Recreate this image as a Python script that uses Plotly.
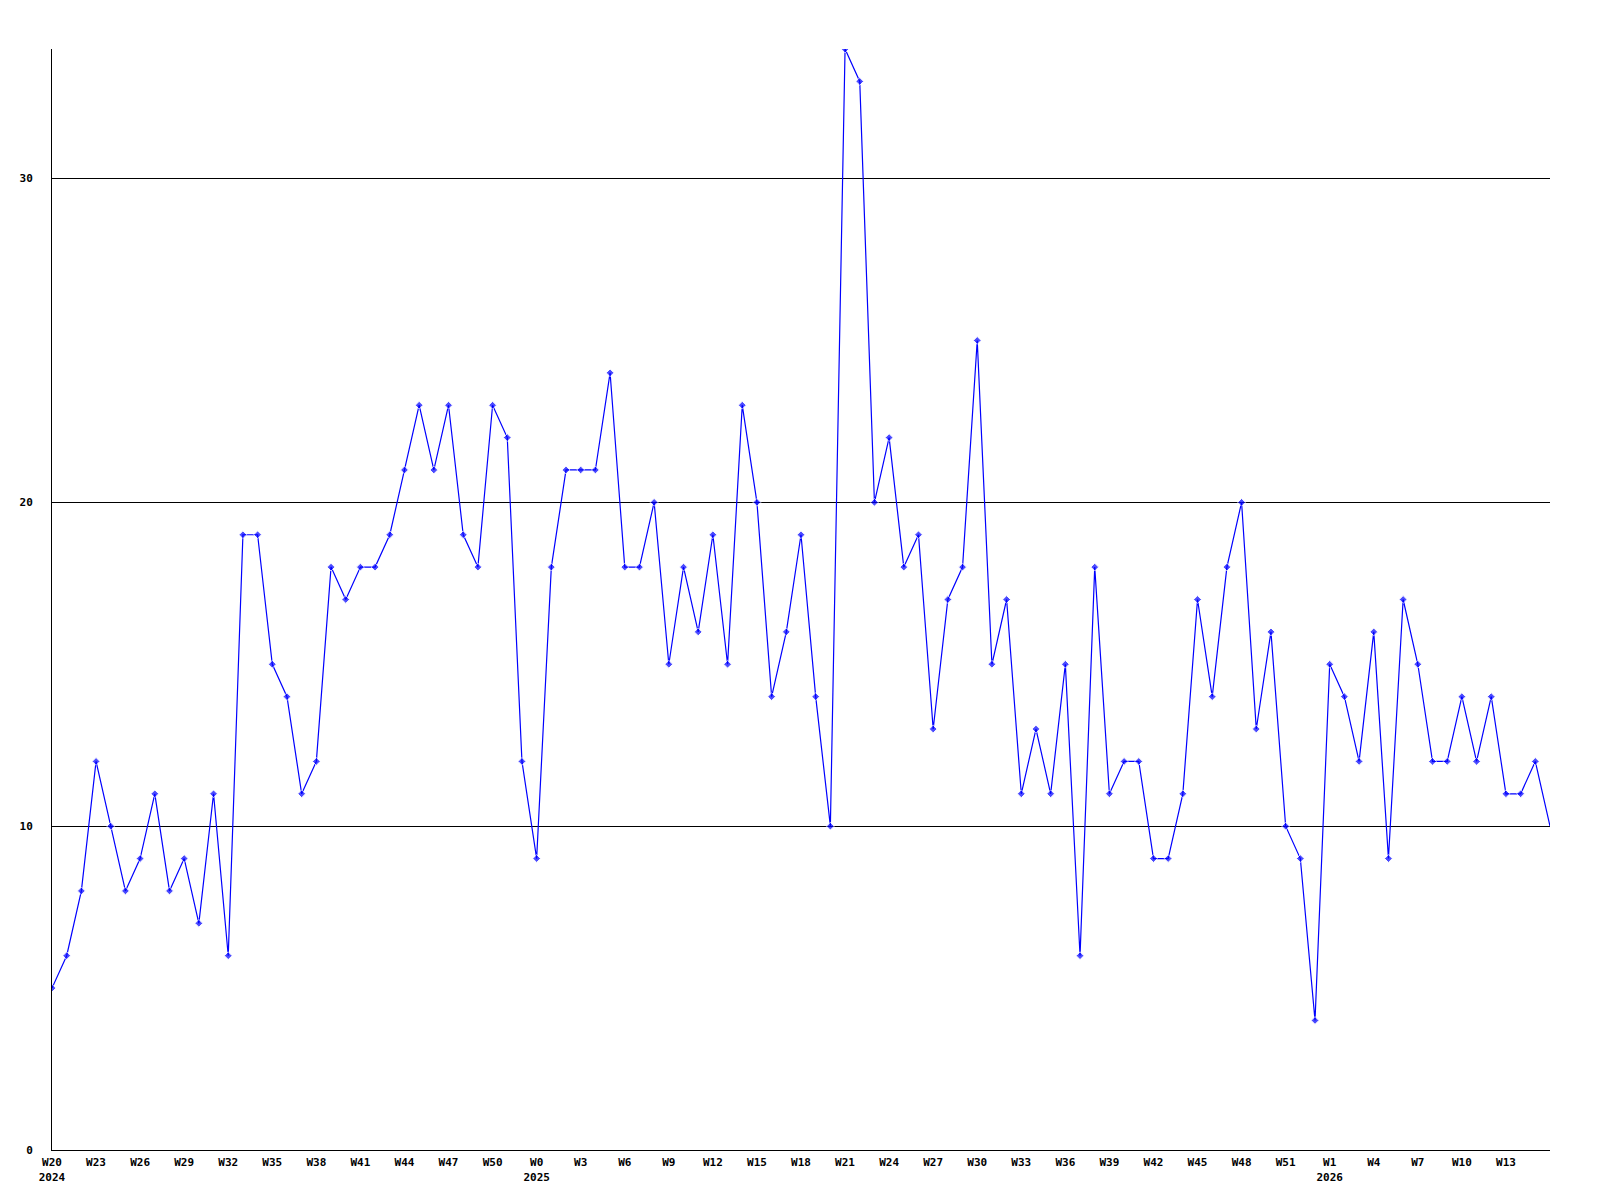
import plotly.graph_objects as go

weeks = (["W%d" % w for w in range(20, 53)] +
         ["W%d" % w for w in range(0, 53)] +
         ["W%d" % w for w in range(0, 17)])
years = ([2024] * 33 + [2025] * 53 + [2026] * 17)

values = [5, 6, 8, 12, 10, 8, 9, 11, 8, 9, 7, 11, 6, 19, 19, 15, 14, 11, 12, 18,
          17, 18, 18, 19, 21, 23, 21, 23, 19, 18, 23, 22, 12, 9, 18, 21, 21, 21, 24, 18,
          18, 20, 15, 18, 16, 19, 15, 23, 20, 14, 16, 19, 14, 10, 34, 33, 20, 22, 18, 19,
          13, 17, 18, 25, 15, 17, 11, 13, 11, 15, 6, 18, 11, 12, 12, 9, 9, 11, 17, 14,
          18, 20, 13, 16, 10, 9, 4, 15, 14, 12, 16, 9, 17, 15, 12, 12, 14, 12, 14, 11,
          11, 12, 10]

y_ticks = [0, 10, 20, 30]

x = list(range(len(values)))

tickvals = []
ticktext = []
seen_years = set()
for i in range(0, len(weeks), 3):
    if i > len(values) - 3:
        break
    label = weeks[i]
    if years[i] not in seen_years:
        seen_years.add(years[i])
        label += "<br>" + str(years[i])
    tickvals.append(i)
    ticktext.append(label)

sizes = [6] * (len(values) - 1) + [0]

fig = go.Figure()
fig.add_trace(go.Scatter(
    x=x, y=values, mode="lines+markers",
    line=dict(color="#0000FF", width=1.2),
    marker=dict(color="#0000FF", size=sizes, symbol="diamond"),
    hoverinfo="skip",
))

font = dict(family="DejaVu Sans Mono", size=11, color="black", weight="bold")

fig.update_layout(
    width=1600, height=1200,
    margin=dict(l=42, r=58, t=41, b=58, pad=0),
    paper_bgcolor="white", plot_bgcolor="white",
    showlegend=False,
    font=font,
)
fig.update_xaxes(
    range=[0, len(values) - 1],
    tickmode="array", tickvals=tickvals, ticktext=ticktext,
    showgrid=False, zeroline=False,
    showline=True, linecolor="black", linewidth=1,
    ticks="", tickfont=font, ticklabelstandoff=2,
)
fig.update_yaxes(
    range=[0, 34],
    tickmode="array", tickvals=y_ticks, ticktext=[str(v) for v in y_ticks],
    showgrid=True, gridcolor="black", gridwidth=1,
    zeroline=False,
    showline=True, linecolor="black", linewidth=1,
    ticks="", tickfont=font, ticklabelstandoff=16,
)

fig.write_html("out.html")
